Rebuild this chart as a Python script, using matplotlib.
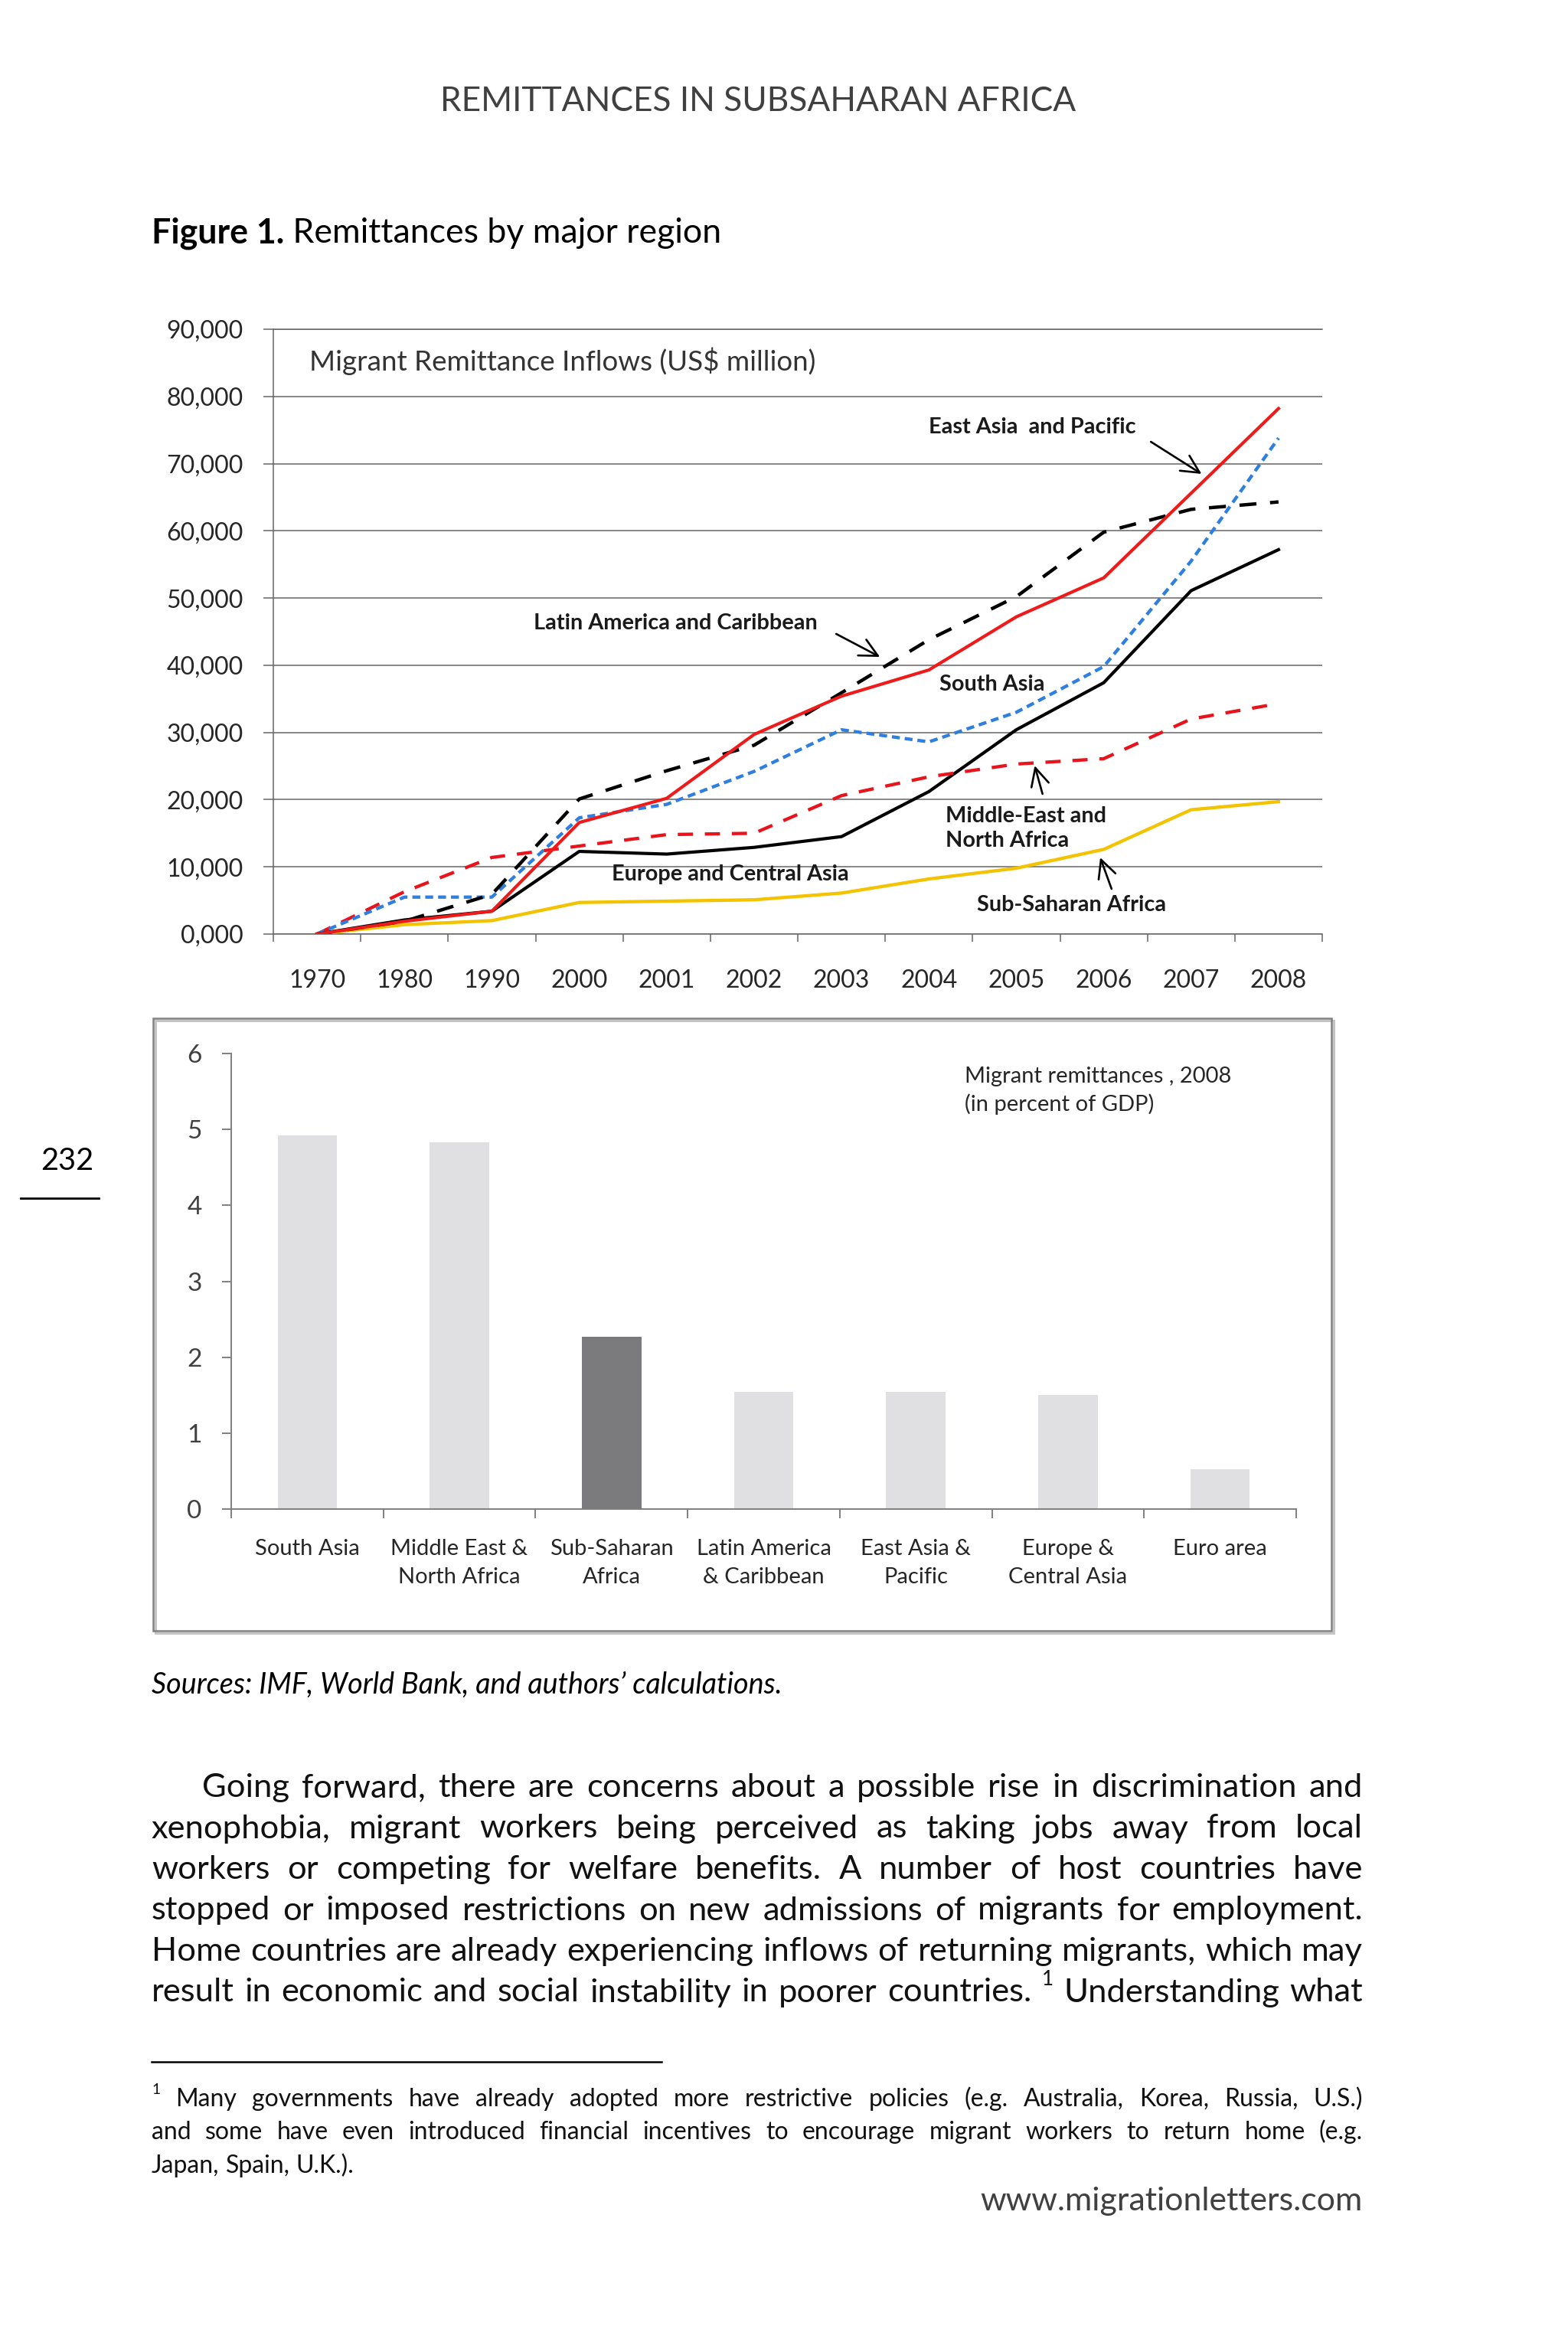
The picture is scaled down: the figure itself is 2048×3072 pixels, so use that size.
import matplotlib
matplotlib.use('Agg')
import matplotlib.pyplot as plt
import numpy as np
from matplotlib import font_manager as fm
from matplotlib.transforms import Affine2D
from matplotlib.patches import Rectangle
from matplotlib.lines import Line2D

# ---- Migrant remittance inflows (US$ million) ----
years = ['1970', '1980', '1990', '2000', '2001', '2002',
         '2003', '2004', '2005', '2006', '2007', '2008']
east_asia_pacific = [0, 1900, 3400, 16600, 20200, 29700, 35400, 39300, 47200, 53000, 65600, 78200]
latin_america = [0, 1900, 5900, 20100, 24300, 28100, 35900, 43800, 50200, 59800, 63200, 64300]
south_asia = [0, 5500, 5500, 17300, 19300, 24200, 30400, 28600, 33000, 39800, 55500, 73800]
middle_east = [0, 6300, 11400, 13100, 14800, 15000, 20600, 23400, 25300, 26100, 32000, 34300]
europe_central_asia = [0, 2100, 3400, 12300, 11900, 12900, 14500, 21200, 30400, 37400, 51100, 57200]
sub_saharan = [0, 1400, 2000, 4700, 4900, 5100, 6100, 8200, 9800, 12600, 18500, 19700]

inflow_ticks = [0, 10000, 20000, 30000, 40000, 50000, 60000, 70000, 80000, 90000]
inflow_tick_labels = ['0,000', '10,000', '20,000', '30,000', '40,000',
                      '50,000', '60,000', '70,000', '80,000', '90,000']

# ---- Migrant remittances 2008 (percent of GDP) ----
gdp_regions = ['South Asia', 'Middle East &\nNorth Africa', 'Sub-Saharan\nAfrica',
               'Latin America\n& Caribbean', 'East Asia &\nPacific',
               'Europe &\nCentral Asia', 'Euro area']
gdp_share = [4.92, 4.83, 2.27, 1.54, 1.54, 1.50, 0.52]
gdp_ticks = [0, 1, 2, 3, 4, 5, 6]

# ---- page text ----
para_lines = [
    "Going forward, there are concerns about a possible rise in discrimination and",
    "xenophobia, migrant workers being perceived as taking jobs away from local",
    "workers or competing for welfare benefits. A number of host countries have",
    "stopped or imposed restrictions on new admissions of migrants for employment.",
    "Home countries are already experiencing inflows of returning migrants, which may",
    "result in economic and social instability in poorer countries. ^1 Understanding what",
]
foot_lines = [
    "^1 Many governments have already adopted more restrictive policies (e.g. Australia, Korea, Russia, U.S.)",
    "and some have even introduced financial incentives to encourage migrant workers to return home (e.g.",
    "Japan, Spain, U.K.).",
]

installed = {f.name for f in fm.fontManager.ttflist}


def pick(*names):
    for n in names:
        if n in installed:
            return n
    return 'DejaVu Sans'


PAGE = pick('Liberation Sans Narrow', 'Lato')
CHART = pick('Lato', 'Open Sans')
plt.rcParams['font.family'] = CHART

W, H = 2048, 3072
fig = plt.figure(figsize=(W / 100, H / 100), dpi=100)
fig.patch.set_facecolor('white')
PX = Affine2D().scale(1 / W, -1 / H).translate(0, 1) + fig.transFigure
renderer = fig.canvas.get_renderer()


def rect(l, t, r, b):
    return [l / W, 1 - b / H, (r - l) / W, (b - t) / H]


def text_width(s, size, **kw):
    t = fig.text(0, 0, s, fontsize=size, **kw)
    w = t.get_window_extent(renderer=renderer).width
    t.remove()
    return w


def fit(s, target, **kw):
    return 40 * target / text_width(s, 40, **kw)


def tokens(line, size, **kw):
    out = []
    for tok in line.split():
        if tok.startswith('^'):
            s, sz, dy = tok[1:], size * 0.6, -size * 0.5 * 100 / 72
        else:
            s, sz, dy = tok, size, 0
        out.append((s, sz, dy, text_width(s, sz, **kw)))
    return out


def space_w(size, **kw):
    return text_width('a a', size, **kw) - text_width('aa', size, **kw)


def natural(line, size, **kw):
    tk = tokens(line, size, **kw)
    return sum(t[3] for t in tk) + (len(tk) - 1) * space_w(size, **kw)


def set_line(line, x0, x1, base, size, justify=True, **kw):
    tk = tokens(line, size, **kw)
    total = sum(t[3] for t in tk)
    gap = (x1 - x0 - total) / (len(tk) - 1) if justify else space_w(size, **kw)
    x = x0
    for s, sz, dy, w in tk:
        fig.text(x, base + dy, s, fontsize=sz, transform=PX, ha='left', va='baseline', **kw)
        x += w + gap


# ================= line chart =================
ax = fig.add_axes(rect(357, 430, 1727, 1220))
x = np.arange(len(years))
ax.plot(x, sub_saharan, color='#f4c300', lw=3.1, zorder=3)
ax.plot(x, europe_central_asia, color='black', lw=3.0, zorder=3)
ax.plot(x, middle_east, color='#e8141c', lw=3.1, dashes=(4.6, 3.6), zorder=3)
ax.plot(x, south_asia, color='#2e7fe0', lw=3.1, dashes=(2.4, 1.5), zorder=4)
ax.plot(x, latin_america, color='black', lw=3.2, dashes=(5.0, 4.0), zorder=4)
ax.plot(x, east_asia_pacific, color='#ee1b1b', lw=3.0, zorder=5)

ax.set_xlim(-0.5, len(years) - 0.5)
ax.set_ylim(0, 90000)
ax.set_yticks(inflow_ticks)
ax.set_yticklabels(inflow_tick_labels, fontsize=23, color='#262626')
ax.set_xticks(np.arange(-0.5, len(years)))
ax.set_xticklabels([])
ax.set_xticks(x, minor=True)
ax.set_xticklabels(years, minor=True, fontsize=23, color='#262626')
ax.tick_params(axis='y', length=9.4, width=1.1, color='#666666', pad=19)
ax.tick_params(axis='x', which='major', length=7.5, width=1.1, color='#666666')
ax.tick_params(axis='x', which='minor', length=0, pad=33)
ax.grid(axis='y', color='#666666', lw=1.1, zorder=1)
for side in ['left', 'bottom', 'top']:
    ax.spines[side].set_color('#666666')
    ax.spines[side].set_linewidth(1.1)
ax.spines['right'].set_visible(False)
ax.set_facecolor('none')

ax.text(-0.09, 85220, 'Migrant Remittance Inflows (US$ million)',
        fontsize=fit('Migrant Remittance Inflows (US$ million)', 660), color='#333333',
        ha='left', va='center')

lab = fit('Latin America and Caribbean', 370, fontweight='bold')
lab_kw = dict(fontsize=lab, fontweight='bold', color='#1a1a1a')
ax.text(8.18, 75420, 'East Asia  and Pacific', ha='center', va='center', **lab_kw)
ax.text(4.10, 46250, 'Latin America and Caribbean', ha='center', va='center', **lab_kw)
ax.text(7.72, 37140, 'South Asia', ha='center', va='center', **lab_kw)
ax.text(7.19, 15720, 'Middle-East and\nNorth Africa', ha='left', va='center',
        linespacing=1.3, **lab_kw)
ax.text(3.37, 8890, 'Europe and Central Asia', ha='left', va='center', **lab_kw)
ax.text(8.63, 4330, 'Sub-Saharan Africa', ha='center', va='center', **lab_kw)

arrow = dict(arrowstyle='->', lw=1.9, color='black', mutation_scale=42, shrinkA=0, shrinkB=0)
ax.annotate('', xy=(10.12, 68470), xytext=(9.54, 73250), arrowprops=arrow)
ax.annotate('', xy=(6.44, 41240), xytext=(5.94, 44660), arrowprops=arrow)
ax.annotate('', xy=(8.21, 25060), xytext=(8.30, 20850), arrowprops=arrow)
ax.annotate('', xy=(8.96, 11390), xytext=(9.09, 6720), arrowprops=arrow)

# ================= bar chart =================
fig.add_artist(Rectangle((203, 1333), 1539, 800, transform=PX, fill=False,
                         ec='#c4c4c4', lw=2.2))
fig.add_artist(Rectangle((200, 1330), 1539, 800, transform=PX, fill=False,
                         ec='#808080', lw=1.8))

bax = fig.add_axes(rect(302, 1376, 1693, 1971))
pos = np.arange(len(gdp_regions))
bar_colors = ['#7b7a7c' if r.startswith('Sub-Saharan') else '#e0e0e2' for r in gdp_regions]
bax.bar(pos, gdp_share, width=0.39, color=bar_colors, zorder=2)
bax.set_xlim(-0.5, len(pos) - 0.5)
bax.set_ylim(0, 6)
bax.set_yticks(gdp_ticks)
bax.set_yticklabels([str(t) for t in gdp_ticks], family=PAGE, fontsize=24, color='#404040')
bax.set_xticks(np.arange(-0.5, len(pos)))
bax.set_xticklabels([])
bax.set_xticks(pos, minor=True)
bax.set_xticklabels(gdp_regions, minor=True, family=PAGE, fontsize=21, color='#262626',
                    linespacing=1.55)
bax.tick_params(axis='y', length=8.6, width=1.4, color='#7f7f7f', pad=19)
bax.tick_params(axis='x', which='major', length=8.6, width=1.4, color='#7f7f7f')
bax.tick_params(axis='x', which='minor', length=0, pad=28)
for side in ['left', 'bottom']:
    bax.spines[side].set_color('#7f7f7f')
    bax.spines[side].set_linewidth(1.4)
for side in ['top', 'right']:
    bax.spines[side].set_visible(False)
bax.set_facecolor('none')
bax.text(4.32, 5.51, 'Migrant remittances , 2008\n(in percent of GDP)', family=PAGE,
         fontsize=21, color='#262626', ha='left', va='center', linespacing=1.45)

# ================= page furniture =================
hdr = 'REMITTANCES IN SUBSAHARAN AFRICA'
fig.text(990, 145, hdr, transform=PX, ha='center', va='baseline', family=PAGE,
         fontsize=fit(hdr, 831, family=PAGE), color='#404040')

t1, t2 = 'Figure 1.', ' Remittances by major region'
w1 = text_width(t1, 40, family=PAGE, fontweight='bold')
w2 = text_width(t2, 40, family=PAGE)
ts = 40 * 743 / (w1 + w2)
fig.text(198, 317, t1, transform=PX, ha='left', va='baseline', family=PAGE,
         fontweight='bold', fontsize=ts, color='black')
fig.text(198 + w1 * ts / 40, 317, t2, transform=PX, ha='left', va='baseline', family=PAGE,
         fontsize=ts, color='black')

fig.text(88, 1528, '232', transform=PX, ha='center', va='baseline', family=PAGE,
         fontsize=min(fit('232', 69, family=PAGE), 31), color='black')
fig.add_artist(Line2D([27, 129], [1565, 1565], transform=PX, color='black', lw=2))

src = 'Sources: IMF, World Bank, and authors\u2019 calculations.'
fig.text(198, 2212, src, transform=PX, ha='left', va='baseline', family=PAGE,
         style='italic', fontsize=fit(src, 823, family=PAGE, style='italic'), color='black')

# paragraph, justified
starts = [264] + [198] * (len(para_lines) - 1)
ratio = min((1780 - s) / natural(l, 20, family=PAGE) for l, s in zip(para_lines, starts))
psize = min(20 * ratio * 0.995, 32)
for i, (line, s) in enumerate(zip(para_lines, starts)):
    set_line(line, s, 1780, 2347 + i * 53.5, psize, justify=True, family=PAGE, color='#111111')

fig.add_artist(Line2D([198, 864], [2693, 2693], transform=PX, color='black', lw=1.8))

ratio = min(1582 / natural(l, 20, family=PAGE) for l in foot_lines[:2])
fsize = min(20 * ratio * 0.995, 23)
for i, line in enumerate(foot_lines):
    set_line(line, 198, 1780, 2751 + i * 43.5, fsize, justify=(i < 2), family=PAGE,
             color='#111111')

url = 'www.migrationletters.com'
fig.text(1780, 2887, url, transform=PX, ha='right', va='baseline', family=PAGE,
         fontsize=fit(url, 500, family=PAGE), color='#404040')

fig.savefig('out.png', dpi=100, facecolor='white')
